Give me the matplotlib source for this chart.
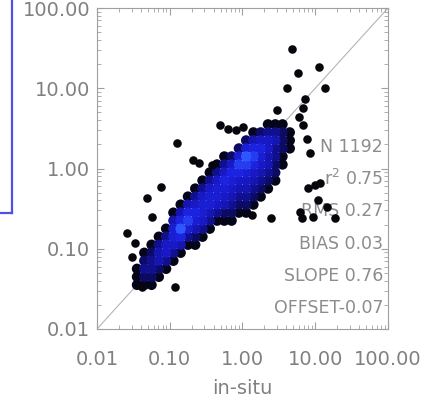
import numpy as np
import matplotlib.pyplot as plt
from matplotlib.colors import LinearSegmentedColormap
from matplotlib.lines import Line2D

# Axis ticks
tick_values = [0.01, 0.1, 1, 10, 100]
tick_labels = ["0.01", "0.10", "1.00", "10.00", "100.00"]
x_label = "in-situ"

# Statistics printed in the lower right corner
stat_lines = ["N 1192", "r$^2$ 0.75", "RMS 0.27", "BIAS 0.03", "SLOPE 0.76", "OFFSET-0.07"]

# Columns: log10(in-situ) bin centres, rows: log10(retrieved) bin centres ('.' = empty)
col_log = [-1.45, -1.35, -1.25, -1.15, -1.05, -0.95, -0.85, -0.75, -0.65, -0.55, -0.45,
           -0.35, -0.25, -0.15, -0.05, 0.05, 0.15, 0.25, 0.35, 0.45, 0.55, 0.65]
row_log = [0.55, 0.45, 0.35, 0.25, 0.15, 0.05, -0.05, -0.15, -0.25, -0.35, -0.45,
           -0.55, -0.65, -0.75, -0.85, -0.95, -1.05, -1.15, -1.25, -1.35, -1.45]
density_rows = [
    "..................111.",
    "................123321",
    "...............2455421",
    "..............26775321",
    "............126986431.",
    "...........1358875421.",
    "..........1357765432..",
    ".........13576554321..",
    "........13566544321...",
    ".......13566543321....",
    "......14566543221.....",
    ".....14776432211......",
    ".....478653111........",
    "....1696431...........",
    "...1367321............",
    "..1355411.............",
    ".124531...............",
    ".23431................",
    "13321.................",
    "1221..................",
    "111...................",
]

# Isolated points outside the cloud
out_x = [4.79, 11.3, 5.8, 4.1, 13.6, 7.2, 6.8, 3.0, 6.0, 6.8, 7.7, 8.5,
         0.49, 0.63, 0.81, 1.02, 0.126, 0.21, 0.25, 0.38, 0.076, 0.049, 0.057,
         0.026, 0.033, 0.030, 0.042, 0.118, 7.9, 9.9, 11.6, 2.5, 1.35, 6.2,
         6.6, 10.9, 14.5, 18.7, 9.3]
out_y = [30.8, 18.4, 15.5, 10.1, 10.1, 7.3, 5.7, 5.4, 4.4, 3.5, 2.3, 1.56,
         3.5, 3.1, 3.0, 3.3, 2.1, 1.28, 1.17, 1.11, 0.59, 0.43, 0.25,
         0.157, 0.118, 0.079, 0.033, 0.033, 0.57, 0.62, 0.66, 0.24, 0.26, 0.29,
         0.24, 0.40, 0.33, 0.24, 0.25]

# cells of the density grid
cx, cy, cd = [], [], []
for i, row in enumerate(density_rows):
    for j, ch in enumerate(row.ljust(len(col_log), ".")):
        if ch != ".":
            cx.append(10 ** col_log[j])
            cy.append(10 ** row_log[i])
            cd.append(int(ch))
cx, cy, cd = np.array(cx), np.array(cy), np.array(cd)
order = np.argsort(cd, kind="stable")

cmap = LinearSegmentedColormap.from_list(
    "dens", [(0.0, "#05051a"), (0.15, "#0c0c72"), (0.4, "#1616b8"),
             (0.75, "#1c22e0"), (1.0, "#2e56ff")])

fig = plt.figure(figsize=(4.27, 3.99), dpi=100)
ax = fig.add_axes([97 / 427, 1 - 329 / 399, 291 / 427, 321 / 399])
ax.set_xscale("log")
ax.set_yscale("log")
ax.set_xlim(0.01, 100)
ax.set_ylim(0.01, 100)

# 1:1 line
ax.plot([0.01, 100], [0.01, 100], color="#b4b4b4", lw=0.8, zorder=1)

ax.scatter(cx[order], cy[order], c=cd[order], cmap=cmap, vmin=1, vmax=9,
           s=56, linewidths=0, zorder=3)
ax.scatter(out_x, out_y, s=38, color="#06060c", linewidths=0, zorder=3)

for k, s in enumerate(stat_lines):
    ax.text(0.983, 0.567 - k * 0.1003, s, transform=ax.transAxes,
            ha="right", va="center", fontsize=12.5, color="#8c8c8c", zorder=2)

ax.set_xticks(tick_values, tick_labels)
ax.set_yticks(tick_values, tick_labels)
ax.tick_params(which="both", direction="in", top=True, right=True,
               color="#a0a0a0", labelcolor="#808080", labelsize=14)
ax.tick_params(which="major", length=5, width=0.8)
ax.tick_params(which="minor", length=3, width=0.6)
ax.tick_params(axis="x", pad=15)
ax.tick_params(axis="y", pad=5)
for sp in ax.spines.values():
    sp.set_color("#a0a0a0")
    sp.set_linewidth(0.8)
ax.set_xlabel(x_label, fontsize=14, color="#808080", labelpad=7)

# piece of the blue frame at the left edge
fig.add_artist(Line2D([12 / 427, 12 / 427], [1, 1 - 213 / 399],
                      transform=fig.transFigure, color="#5050e6", lw=1.6))
fig.add_artist(Line2D([0, 12 / 427], [1 - 213 / 399, 1 - 213 / 399],
                      transform=fig.transFigure, color="#5050e6", lw=1.6))

fig.savefig("out.png", dpi=100)
